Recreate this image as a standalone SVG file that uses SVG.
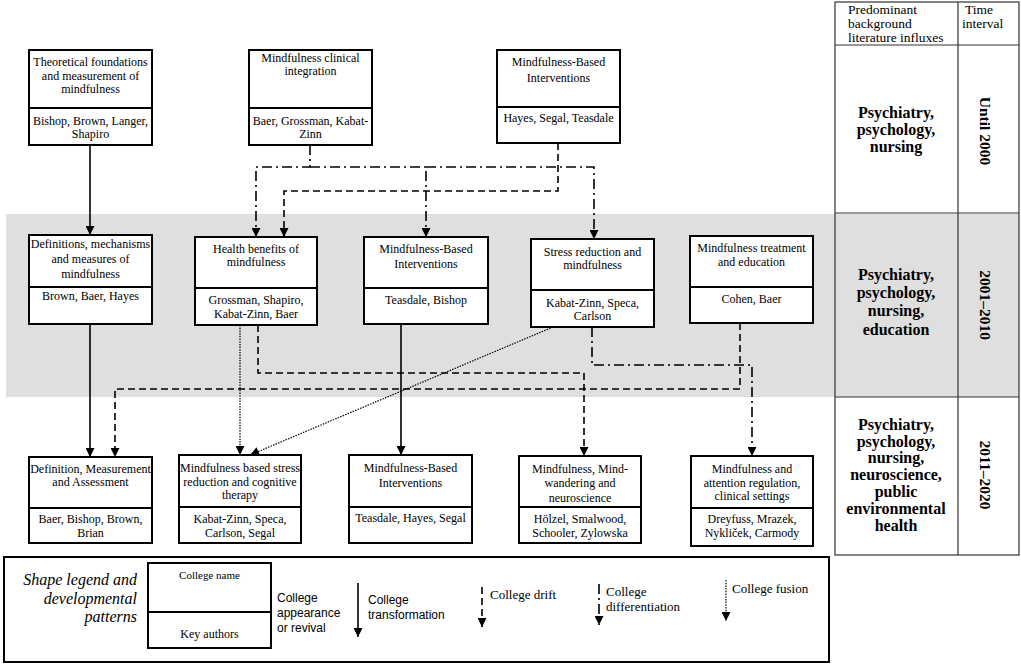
<svg xmlns="http://www.w3.org/2000/svg" width="1021" height="664" viewBox="0 0 1021 664">
<defs>
<marker id="arr" viewBox="0 0 10 10" refX="10" refY="5" markerWidth="10" markerHeight="9" markerUnits="userSpaceOnUse" orient="auto"><path d="M0,0 L10,5 L0,10 z" fill="#000"/></marker>
</defs>
<style>
.box{fill:#fff;stroke:#000;stroke-width:2}
.t{font-family:"Liberation Serif","Times New Roman",serif;font-size:12px;fill:#000;text-anchor:middle}
.c{fill:none;stroke:#000;stroke-width:1.6}
.solid{}
.dash{stroke-dasharray:7,4}
.dd{stroke-dasharray:10,4,2,4}
.dot{stroke-width:1.2;stroke-dasharray:1.5,1.2}
.arr{marker-end:url(#arr)}
.tb{fill:none;stroke:#333;stroke-width:1.2}
.bold{font-family:"Liberation Serif","Times New Roman",serif;font-size:16px;font-weight:bold;fill:#000;text-anchor:middle}
.vt{font-family:"Liberation Serif","Times New Roman",serif;font-size:15.5px;font-weight:bold;fill:#000;text-anchor:middle}
.hd{font-family:"Liberation Serif","Times New Roman",serif;font-size:13.5px;fill:#000}
.lg{font-family:"Liberation Serif","Times New Roman",serif;font-size:13px;fill:#000}
.lgs{font-family:"Liberation Sans",Arial,sans-serif;font-size:12px;fill:#000}
.it{font-family:"Liberation Serif","Times New Roman",serif;font-size:16px;font-style:italic;fill:#000;text-anchor:end}
</style>
<rect x="0" y="0" width="1021" height="664" fill="#fff"/>
<rect x="6" y="214" width="1013" height="183" fill="#dfdfdf"/>

<g id="table">
<rect class="tb" x="835" y="2" width="184" height="553"/>
<line class="tb" x1="958" y1="2" x2="958" y2="555"/>
<line class="tb" x1="835" y1="45" x2="1019" y2="45"/>
<line class="tb" x1="835" y1="213" x2="1019" y2="213"/>
<line class="tb" x1="835" y1="397" x2="1019" y2="397"/>
<text class="hd" x="848" y="14">Predominant</text>
<text class="hd" x="848" y="28">background</text>
<text class="hd" x="848" y="42">literature influxes</text>
<text class="hd" x="965" y="14">Time</text>
<text class="hd" x="962" y="28">interval</text>
<text class="bold" x="896" y="118">Psychiatry,</text>
<text class="bold" x="896" y="135">psychology,</text>
<text class="bold" x="896" y="152">nursing</text>
<text class="bold" x="896" y="280">Psychiatry,</text>
<text class="bold" x="896" y="298">psychology,</text>
<text class="bold" x="896" y="316">nursing,</text>
<text class="bold" x="896" y="335">education</text>
<text class="bold" x="896" y="430">Psychiatry,</text>
<text class="bold" x="896" y="447">psychology,</text>
<text class="bold" x="896" y="463">nursing,</text>
<text class="bold" x="896" y="480">neuroscience,</text>
<text class="bold" x="896" y="497">public</text>
<text class="bold" x="896" y="514">environmental</text>
<text class="bold" x="896" y="531">health</text>
<text class="vt" transform="translate(980,131) rotate(90)">Until 2000</text>
<text class="vt" transform="translate(980,305) rotate(90)">2001–2010</text>
<text class="vt" transform="translate(980,475) rotate(90)">2011–2020</text>
</g>

<g id="connectors">
<path class="c solid arr" d="M90,145 V235"/>
<path class="c dd arr" d="M310,145 V167 H256 V237"/>
<path class="c dd arr" d="M310,167 H426 V237"/>
<path class="c dd arr" d="M426,167 H594 V239"/>
<path class="c dash arr" d="M558,143 V191 H284 V237"/>
<path class="c solid arr" d="M90,324 V457"/>
<path class="c dot arr" d="M240,325 V455"/>
<path class="c dash arr" d="M258,325 V373 H584 V456"/>
<path class="c solid arr" d="M401,324 V455"/>
<path class="c dot arr" d="M553,327 L250,455"/>
<path class="c dd arr" d="M592,327 V365 H752 V456"/>
<path class="c dash arr" d="M740,323 V389 H115 V457"/>
</g>

<g id="n-theoretical">
<rect class="box" x="29" y="50" width="123" height="95"/>
<line class="box" x1="29" y1="108" x2="152" y2="108"/>
<text class="t" x="90.5" y="66">Theoretical foundations</text>
<text class="t" x="90.5" y="79.5">and measurement of</text>
<text class="t" x="90.5" y="93">mindfulness</text>
<text class="t" x="90.5" y="125">Bishop, Brown, Langer,</text>
<text class="t" x="90.5" y="138">Shapiro</text>
</g>
<g id="n-clinical">
<rect class="box" x="249" y="50" width="123" height="95"/>
<line class="box" x1="249" y1="108" x2="372" y2="108"/>
<text class="t" x="310.5" y="62">Mindfulness clinical</text>
<text class="t" x="310.5" y="75">integration</text>
<text class="t" x="310.5" y="125">Baer, Grossman, Kabat-</text>
<text class="t" x="310.5" y="138">Zinn</text>
</g>
<g id="n-mbi-top">
<rect class="box" x="497" y="50" width="123" height="93"/>
<line class="box" x1="497" y1="107" x2="620" y2="107"/>
<text class="t" x="558.5" y="66">Mindfulness-Based</text>
<text class="t" x="558.5" y="82">Interventions</text>
<text class="t" x="558.5" y="122">Hayes, Segal, Teasdale</text>
</g>

<g id="n-definitions">
<rect class="box" x="29" y="235" width="123" height="89"/>
<line class="box" x1="29" y1="287" x2="152" y2="287"/>
<text class="t" x="90.5" y="248">Definitions, mechanisms</text>
<text class="t" x="90.5" y="263">and measures of</text>
<text class="t" x="90.5" y="278">mindfulness</text>
<text class="t" x="90.5" y="300">Brown, Baer, Hayes</text>
</g>
<g id="n-health">
<rect class="box" x="195" y="237" width="122" height="88"/>
<line class="box" x1="195" y1="288" x2="317" y2="288"/>
<text class="t" x="256" y="253">Health benefits of</text>
<text class="t" x="256" y="266">mindfulness</text>
<text class="t" x="256" y="304">Grossman, Shapiro,</text>
<text class="t" x="256" y="318">Kabat-Zinn, Baer</text>
</g>
<g id="n-mbi-mid">
<rect class="box" x="364" y="237" width="124" height="87"/>
<line class="box" x1="364" y1="288" x2="488" y2="288"/>
<text class="t" x="426" y="253">Mindfulness-Based</text>
<text class="t" x="426" y="268">Interventions</text>
<text class="t" x="426" y="304">Teasdale, Bishop</text>
</g>
<g id="n-stress">
<rect class="box" x="531" y="239" width="123" height="88"/>
<line class="box" x1="531" y1="290" x2="654" y2="290"/>
<text class="t" x="592.5" y="256">Stress reduction and</text>
<text class="t" x="592.5" y="269">mindfulness</text>
<text class="t" x="592.5" y="307">Kabat-Zinn, Speca,</text>
<text class="t" x="592.5" y="320">Carlson</text>
</g>
<g id="n-treatment">
<rect class="box" x="690" y="236" width="123" height="87"/>
<line class="box" x1="690" y1="287" x2="813" y2="287"/>
<text class="t" x="751.5" y="252">Mindfulness treatment</text>
<text class="t" x="751.5" y="266">and education</text>
<text class="t" x="751.5" y="303">Cohen, Baer</text>
</g>

<g id="n-definition-measurement">
<rect class="box" x="29" y="457" width="123" height="86"/>
<line class="box" x1="29" y1="508" x2="152" y2="508"/>
<text class="t" x="90.5" y="473">Definition, Measurement</text>
<text class="t" x="90.5" y="486">and Assessment</text>
<text class="t" x="90.5" y="523">Baer, Bishop, Brown,</text>
<text class="t" x="90.5" y="537">Brian</text>
</g>
<g id="n-mbsr">
<rect class="box" x="179" y="455" width="122" height="88"/>
<line class="box" x1="179" y1="507" x2="301" y2="507"/>
<text class="t" x="240" y="472">Mindfulness based stress</text>
<text class="t" x="240" y="486">reduction and cognitive</text>
<text class="t" x="240" y="499">therapy</text>
<text class="t" x="240" y="523">Kabat-Zinn, Speca,</text>
<text class="t" x="240" y="537">Carlson, Segal</text>
</g>
<g id="n-mbi-bottom">
<rect class="box" x="349" y="455" width="123" height="88"/>
<line class="box" x1="349" y1="507" x2="472" y2="507"/>
<text class="t" x="410.5" y="472">Mindfulness-Based</text>
<text class="t" x="410.5" y="487">Interventions</text>
<text class="t" x="410.5" y="522">Teasdale, Hayes, Segal</text>
</g>
<g id="n-mindwandering">
<rect class="box" x="519" y="456" width="122" height="87"/>
<line class="box" x1="519" y1="507" x2="641" y2="507"/>
<text class="t" x="580" y="473">Mindfulness, Mind-</text>
<text class="t" x="580" y="487">wandering and</text>
<text class="t" x="580" y="502">neuroscience</text>
<text class="t" x="580" y="523">Hölzel, Smalwood,</text>
<text class="t" x="580" y="537">Schooler, Zylowska</text>
</g>
<g id="n-attention">
<rect class="box" x="691" y="456" width="122" height="90"/>
<line class="box" x1="691" y1="508" x2="813" y2="508"/>
<text class="t" x="752" y="473">Mindfulness and</text>
<text class="t" x="752" y="487">attention regulation,</text>
<text class="t" x="752" y="500">clinical settings</text>
<text class="t" x="752" y="523">Dreyfuss, Mrazek,</text>
<text class="t" x="752" y="537">Nykliček, Carmody</text>
</g>

<g id="legend">
<rect class="box" x="4" y="557" width="825" height="105"/>
<text class="it" x="137" y="585">Shape legend and</text>
<text class="it" x="137" y="604">developmental</text>
<text class="it" x="137" y="622">patterns</text>
<rect class="box" x="148" y="563" width="123" height="85"/>
<line class="box" x1="148" y1="612" x2="271" y2="612"/>
<text class="t" x="209.5" y="579" style="font-size:11px">College name</text>
<text class="t" x="209.5" y="638">Key authors</text>
<text class="lgs" x="277" y="602">College</text>
<text class="lgs" x="277" y="617">appearance</text>
<text class="lgs" x="277" y="632">or revival</text>
<path class="c solid arr" d="M358,583 V637"/>
<text class="lgs" x="368" y="604">College</text>
<text class="lgs" x="368" y="619">transformation</text>
<path class="c dash arr" d="M482,587 V627"/>
<text class="lg" x="490" y="599">College drift</text>
<path class="c dd arr" d="M599,584 V625"/>
<text class="lg" x="606" y="596">College</text>
<text class="lg" x="606" y="611">differentiation</text>
<path class="c dot arr" d="M726,580 V621"/>
<text class="lg" x="732" y="593">College fusion</text>
</g>
</svg>
